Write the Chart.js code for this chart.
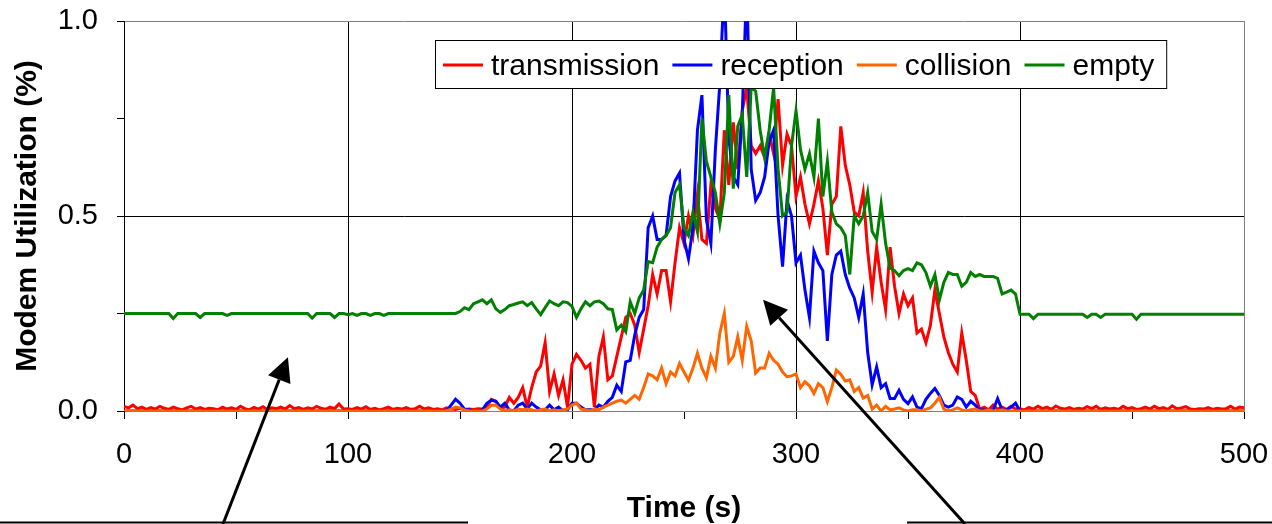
<!DOCTYPE html>
<html>
<head>
<meta charset="utf-8">
<script src="https://cdn.jsdelivr.net/npm/chart.js@4.4.0/dist/chart.umd.min.js"></script>
<style>
  html, body { margin: 0; padding: 0; background: #fff; }
  canvas { display: block; }
</style>
</head>
<body>
<canvas id="chart" width="1272" height="524"></canvas>
<script>
// samples every 2 s, from 0 to 500 s
const STEP = 2;
const SERIES_NAMES = ['transmission', 'reception', 'collision', 'empty'];
const SERIES_COLORS = ['#ff0000', '#0000ff', '#ff6600', '#008000'];
const X_TICKS = [0, 100, 200, 300, 400, 500];
const Y_TICKS = ['0.0', '0.5', '1.0'];

const transmission = [
  0.012,0.008,0.015,0.006,0.01,0.004,0.009,0.005,0.012,0.007,
  0.004,0.01,0.006,0.003,0.008,0.012,0.005,0.009,0.004,0.007,
  0.006,0.003,0.01,0.005,0.008,0.004,0.012,0.006,0.003,0.009,
  0.005,0.011,0.004,0.008,0.006,0.01,0.005,0.014,0.006,0.009,
  0.004,0.008,0.005,0.012,0.007,0.004,0.01,0.006,0.018,0.005,
  0.006,0.004,0.009,0.005,0.011,0.004,0.007,0.003,0.006,0.01,
  0.004,0.007,0.005,0.009,0.004,0.006,0.012,0.005,0.008,0.004,
  0.006,0.003,0.008,0.005,0.004,0.007,0.003,0.005,0.004,0.006,
  0.005,0.01,0.03,0.025,0.008,0.01,0.035,0.02,0.035,0.06,
  0.01,0.06,0.1,0.115,0.175,0.05,0.095,0.04,0.08,0.01,
  0.12,0.145,0.13,0.11,0.12,0.01,0.14,0.19,0.08,0.09,
  0.14,0.19,0.24,0.25,0.22,0.15,0.21,0.27,0.35,0.3,
  0.36,0.36,0.28,0.38,0.47,0.43,0.5,0.45,0.555,0.44,
  0.43,0.58,0.52,0.49,0.72,0.58,0.74,0.62,0.77,0.83,
  0.68,0.66,0.68,0.65,0.71,0.66,0.8,0.63,0.71,0.68,
  0.55,0.6,0.53,0.48,0.53,0.59,0.52,0.4,0.53,0.55,
  0.73,0.63,0.58,0.51,0.5,0.56,0.41,0.305,0.42,0.33,
  0.26,0.42,0.32,0.25,0.3,0.27,0.29,0.2,0.21,0.175,
  0.22,0.31,0.25,0.19,0.15,0.12,0.1,0.2,0.13,0.05,
  0.04,0.005,0.01,0.003,0.015,0.005,0.01,0.004,0.012,0.005,
  0.006,0.003,0.009,0.005,0.012,0.006,0.01,0.004,0.013,0.007,
  0.005,0.009,0.004,0.007,0.005,0.011,0.006,0.012,0.004,0.008,
  0.005,0.007,0.004,0.012,0.006,0.009,0.004,0.006,0.01,0.005,
  0.012,0.006,0.009,0.004,0.013,0.006,0.008,0.011,0.005,0.004,
  0.006,0.005,0.009,0.004,0.007,0.005,0.006,0.012,0.005,0.01,
  0.008
];

const reception = [
  0,0,0,0,0,0,0,0,0,0,
  0,0,0,0,0,0,0,0,0,0,
  0,0,0,0,0,0,0,0,0,0,
  0,0,0,0,0,0,0,0,0,0,
  0,0,0,0,0,0,0,0,0,0,
  0,0,0,0,0,0,0,0,0,0,
  0,0,0,0,0,0,0,0,0,0,
  0,0,0,0.015,0.03,0.02,0.005,0.003,0,0,
  0.003,0.02,0.028,0.025,0.01,0.02,0.003,0,0.015,0.02,
  0.005,0.02,0.01,0.003,0.003,0.015,0.003,0.01,0,0.003,
  0.02,0.02,0.01,0.003,0.003,0.003,0.015,0.01,0.025,0.035,
  0.066,0.05,0.126,0.13,0.195,0.24,0.26,0.47,0.5,0.44,
  0.44,0.45,0.55,0.59,0.61,0.44,0.39,0.47,0.72,0.81,
  0.49,0.43,0.67,0.84,1.1,0.7,0.6,0.58,0.76,1.1,
  0.62,0.54,0.56,0.6,0.69,0.72,0.5,0.37,0.54,0.5,
  0.38,0.4,0.31,0.24,0.41,0.38,0.36,0.18,0.35,0.4,
  0.41,0.35,0.315,0.29,0.24,0.3,0.15,0.067,0.113,0.06,
  0.07,0.032,0.032,0.053,0.03,0.019,0.036,0.01,0.006,0.03,
  0.045,0.058,0.04,0.015,0.01,0.015,0.036,0.03,0.01,0.025,
  0.015,0.003,0.002,0.002,0.002,0.032,0.003,0.002,0.01,0.02,
  0,0,0,0,0,0,0,0,0,0,
  0,0,0,0,0,0,0,0,0,0,
  0,0,0,0,0,0,0,0,0,0,
  0,0,0,0,0,0,0,0,0,0,
  0,0,0,0,0,0,0,0,0,0,
  0
];

const collision = [
  0,0,0,0,0,0,0,0,0,0,
  0,0,0,0,0,0,0,0,0,0,
  0,0,0,0,0,0,0,0,0,0,
  0,0,0,0,0,0,0,0,0,0,
  0,0,0,0,0,0,0,0,0,0,
  0,0,0,0,0,0,0,0,0,0,
  0,0,0,0,0,0,0,0,0,0,
  0,0,0,0.005,0.01,0.008,0.003,0,0,0,
  0,0.005,0.015,0.015,0.005,0,0.003,0,0.005,0.003,
  0.005,0.003,0,0.003,0.005,0,0.003,0,0.003,0.005,
  0.015,0.02,0.005,0.003,0,0.005,0.003,0.01,0.015,0.02,
  0.025,0.028,0.02,0.03,0.04,0.03,0.06,0.095,0.09,0.08,
  0.11,0.07,0.1,0.09,0.122,0.1,0.079,0.11,0.148,0.11,
  0.085,0.14,0.11,0.2,0.25,0.125,0.14,0.19,0.13,0.217,
  0.18,0.097,0.11,0.11,0.148,0.13,0.12,0.1,0.088,0.09,
  0.095,0.06,0.075,0.065,0.045,0.07,0.06,0.024,0.06,0.105,
  0.094,0.077,0.08,0.05,0.06,0.033,0.04,0.005,0.015,0,
  0.012,0.003,0.005,0.008,0.003,0,0.003,0.003,0,0.005,
  0.008,0.02,0.035,0.005,0,0.003,0.008,0.003,0,0.003,
  0.005,0,0,0.003,0,0,0.003,0,0,0,
  0,0,0,0,0,0,0,0,0,0,
  0,0,0,0,0,0,0,0,0,0,
  0,0,0,0,0,0,0,0,0,0,
  0,0,0,0,0,0,0,0,0,0,
  0,0,0,0,0,0,0,0,0,0,
  0
];

const empty = [
  0.25,0.25,0.25,0.25,0.25,0.25,0.25,0.25,0.25,0.25,
  0.25,0.237,0.25,0.25,0.25,0.25,0.25,0.24,0.25,0.25,
  0.25,0.25,0.25,0.245,0.25,0.25,0.25,0.25,0.25,0.25,
  0.25,0.25,0.25,0.25,0.25,0.25,0.25,0.25,0.25,0.25,
  0.25,0.25,0.238,0.25,0.25,0.25,0.25,0.24,0.25,0.25,
  0.247,0.25,0.245,0.25,0.25,0.245,0.25,0.25,0.245,0.25,
  0.25,0.25,0.25,0.25,0.25,0.25,0.25,0.25,0.25,0.25,
  0.25,0.25,0.25,0.25,0.25,0.255,0.265,0.26,0.275,0.28,
  0.285,0.275,0.285,0.262,0.253,0.26,0.27,0.273,0.277,0.28,
  0.27,0.278,0.262,0.247,0.265,0.282,0.275,0.27,0.28,0.278,
  0.268,0.24,0.262,0.28,0.27,0.28,0.282,0.275,0.262,0.26,
  0.208,0.22,0.203,0.28,0.25,0.29,0.31,0.383,0.38,0.42,
  0.44,0.45,0.47,0.56,0.58,0.47,0.45,0.51,0.46,0.75,
  0.64,0.6,0.56,0.48,0.56,0.81,0.57,0.73,0.76,0.6,
  0.83,0.82,0.72,0.65,0.72,0.83,0.62,0.5,0.51,0.68,
  0.77,0.67,0.62,0.66,0.6,0.75,0.55,0.64,0.51,0.48,
  0.47,0.45,0.35,0.5,0.48,0.5,0.56,0.46,0.44,0.53,
  0.43,0.367,0.36,0.347,0.36,0.365,0.36,0.38,0.375,0.355,
  0.32,0.35,0.285,0.33,0.355,0.35,0.35,0.32,0.33,0.355,
  0.345,0.35,0.345,0.345,0.345,0.34,0.3,0.305,0.31,0.3,
  0.248,0.248,0.248,0.237,0.248,0.248,0.248,0.248,0.248,0.248,
  0.248,0.248,0.248,0.248,0.248,0.24,0.248,0.248,0.24,0.248,
  0.248,0.248,0.248,0.248,0.248,0.248,0.235,0.248,0.248,0.248,
  0.248,0.248,0.248,0.248,0.248,0.248,0.248,0.248,0.248,0.248,
  0.248,0.248,0.248,0.248,0.248,0.248,0.248,0.248,0.248,0.248,
  0.248
];

const FONT = "'Liberation Sans', Arial, sans-serif";
const allSeries = [transmission, reception, collision, empty];

function toPoints(arr) {
  return arr.map((v, i) => ({x: i * STEP, y: v}));
}

// legend box + arrows + the cut-off lines at the bottom
const overlay = {
  id: 'overlay',
  afterDatasetsDraw(chart) {
    const ctx = chart.ctx;
    const a = chart.chartArea;
    ctx.save();
    ctx.font = '30px ' + FONT;
    const boxL = a.left + 311, boxT = a.top + 19, boxH = 48;
    let x = boxL + 8;
    const items = [];
    chart.data.datasets.forEach(ds => {
      const w = ctx.measureText(ds.label).width;
      items.push({x: x, w: w, ds: ds});
      x += 48 + w + 13;
    });
    const boxR = x - 1;
    ctx.fillStyle = '#fff';
    ctx.fillRect(boxL, boxT, boxR - boxL, boxH);
    ctx.strokeStyle = '#000';
    ctx.lineWidth = 1;
    ctx.strokeRect(boxL + 0.5, boxT + 0.5, boxR - boxL, boxH);
    items.forEach(it => {
      ctx.strokeStyle = it.ds.borderColor;
      ctx.lineWidth = 3;
      ctx.beginPath();
      ctx.moveTo(it.x, boxT + 25);
      ctx.lineTo(it.x + 40, boxT + 25);
      ctx.stroke();
      ctx.fillStyle = '#000';
      ctx.textBaseline = 'alphabetic';
      ctx.fillText(it.ds.label, it.x + 48, boxT + 35);
    });
    ctx.restore();
  },
  afterDraw(chart) {
    const ctx = chart.ctx;
    const xs = chart.scales.x, ys = chart.scales.y;
    const H = chart.height;
    ctx.save();
    ctx.strokeStyle = '#000';
    ctx.fillStyle = '#000';
    ctx.lineWidth = 2;
    ctx.beginPath();
    ctx.moveTo(0, H - 1.5); ctx.lineTo(468, H - 1.5);
    ctx.moveTo(907, H - 1.5); ctx.lineTo(chart.width, H - 1.5);
    ctx.stroke();
    ctx.lineWidth = 3;
    drawArrow(ctx, 223, H, xs.getPixelForValue(73.2), ys.getPixelForValue(0.138));
    drawArrow(ctx, 965, H, xs.getPixelForValue(285.3), ys.getPixelForValue(0.285));
    ctx.restore();
  }
};

function drawArrow(ctx, x0, y0, x1, y1) {
  const ang = Math.atan2(y1 - y0, x1 - x0);
  const L = 24, W = 12;
  const bx = x1 - L * Math.cos(ang), by = y1 - L * Math.sin(ang);
  ctx.beginPath();
  ctx.moveTo(x0, y0);
  ctx.lineTo(bx, by);
  ctx.stroke();
  ctx.beginPath();
  ctx.moveTo(x1, y1);
  ctx.lineTo(bx + W * Math.sin(ang), by - W * Math.cos(ang));
  ctx.lineTo(bx - W * Math.sin(ang), by + W * Math.cos(ang));
  ctx.closePath();
  ctx.fill();
}

const ctx = document.getElementById('chart');
new Chart(ctx, {
  type: 'line',
  data: {
    datasets: allSeries.map((s, i) => ({
      label: SERIES_NAMES[i],
      data: toPoints(s),
      borderColor: SERIES_COLORS[i],
      backgroundColor: SERIES_COLORS[i],
      borderWidth: 3,
      pointRadius: 0,
      tension: 0,
      order: allSeries.length - i
    }))
  },
  options: {
    responsive: false,
    animation: false,
    devicePixelRatio: 1,
    layout: {padding: {top: 21, right: 28, left: 0, bottom: 0}},
    plugins: {legend: {display: false}, tooltip: {enabled: false}},
    scales: {
      x: {
        type: 'linear', min: 0, max: 500,
        afterFit: s => { s.height = 113; s.paddingLeft = 0; s.paddingRight = 0; },
        ticks: {
          stepSize: 50, autoSkip: false, maxRotation: 0, padding: 19,
          color: '#000', font: {family: FONT, size: 29},
          callback: v => X_TICKS.includes(v) ? String(v) : ''
        },
        grid: {
          color: c => {
            const v = c.tick ? c.tick.value : -1;
            if (v === 500) return '#808080';
            if (v > 0 && v < 500 && v % 100 === 0) return '#000';
            return 'rgba(0,0,0,0)';
          },
          tickColor: '#000', tickLength: 8, lineWidth: 1
        },
        border: {color: '#808080', width: 1},
        title: {
          display: true, text: 'Time (s)', color: '#000',
          font: {family: FONT, size: 30, weight: 'bold', lineHeight: 1},
          padding: {top: 0, bottom: 0}
        }
      },
      y: {
        min: 0, max: 1,
        afterFit: s => { s.width = 124; s.paddingTop = 0; s.paddingBottom = 0; },
        ticks: {
          stepSize: 0.25, padding: 19, color: '#000',
          font: {family: FONT, size: 29},
          callback: v => {
            const k = Math.round(v * 2);
            return Math.abs(v * 2 - k) < 1e-9 ? Y_TICKS[k] : '';
          }
        },
        grid: {
          color: c => {
            const v = c.tick ? c.tick.value : -1;
            if (Math.abs(v - 1) < 1e-9) return '#808080';
            if (Math.abs(v - 0.5) < 1e-9) return '#000';
            return 'rgba(0,0,0,0)';
          },
          tickColor: '#000', tickLength: 7, lineWidth: 1
        },
        border: {color: '#000', width: 1},
        title: {
          display: true, text: 'Modem Utilization (%)', color: '#000',
          font: {family: FONT, size: 30, weight: 'bold'},
          padding: {top: 10, bottom: 0}
        }
      }
    }
  },
  plugins: [overlay]
});
</script>
</body>
</html>
